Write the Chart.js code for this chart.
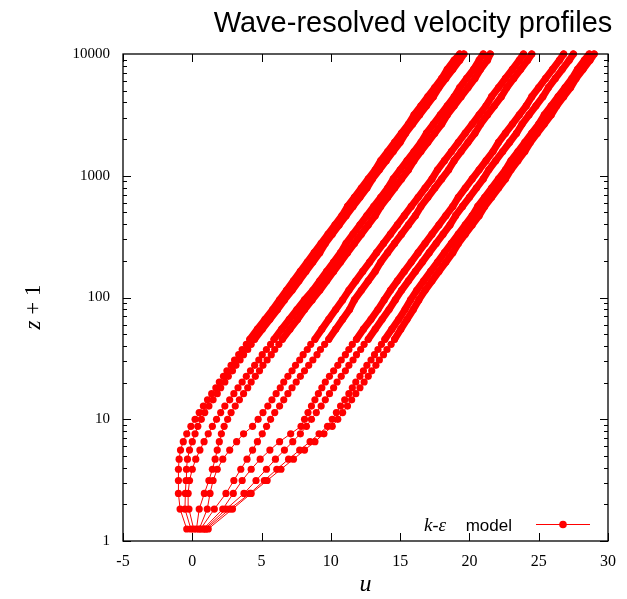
<!DOCTYPE html>
<html>
<head>
<meta charset="utf-8">
<script src="https://cdn.jsdelivr.net/npm/chart.js@4.4.0/dist/chart.umd.min.js"></script>
<style>
  html, body { margin: 0; padding: 0; background: #fff; }
  #wrap { width: 627px; height: 599px; }
</style>
</head>
<body>
<div id="wrap"><canvas id="profiles" width="627" height="599"></canvas></div>
<script>
// z + 1 levels of the model grid (dense near the bed, every 2nd level above ~45)
const zPlusOne = [1.255, 1.83, 2.457, 3.14, 3.885, 4.696, 5.581, 6.545, 7.597, 8.742,
  9.991, 11.35, 12.84, 14.45, 16.22, 18.14, 20.23, 22.52, 25.0, 27.72,
  30.67, 33.9, 37.41, 41.24, 45.41, 54.92, 66.21, 79.63, 95.58, 114.5,
  137.0, 163.8, 195.5, 233.3, 278.1, 331.4, 394.7, 469.9, 559.3, 665.5,
  791.6, 941.5, 1119.5, 1331, 1582, 1881, 2236, 2657, 3158, 3753,
  4460, 5300, 6298, 7484, 8892, 10000];

// velocity u at each level, one profile per wave phase
const u1 = [-0.4, -0.88, -1.0, -1.0, -1.0, -0.95, -0.85, -0.65, -0.4, -0.1, 0.2, 0.5, 0.8, 1.1, 1.4, 1.7, 1.95, 2.25, 2.5, 2.8, 3.05, 3.35, 3.6, 3.9, 4.15, 4.7, 5.25, 5.8, 6.3, 6.8, 7.3, 7.8, 8.3, 8.8, 9.3, 9.8, 10.3, 10.8, 11.2, 11.7, 12.2, 12.7, 13.2, 13.6, 14.1, 14.6, 15.1, 15.6, 16.0, 16.5, 17.0, 17.5, 18.0, 18.4, 18.9, 19.3];
const u2 = [-0.1, -0.53, -0.5, -0.45, -0.42, -0.35, -0.2, 0.0, 0.2, 0.4, 0.65, 0.9, 1.2, 1.5, 1.8, 2.05, 2.35, 2.6, 2.9, 3.15, 3.45, 3.7, 4.0, 4.25, 4.5, 5.05, 5.6, 6.15, 6.65, 7.2, 7.7, 8.2, 8.7, 9.2, 9.6, 10.1, 10.6, 11.1, 11.6, 12.1, 12.6, 13.0, 13.5, 14.0, 14.5, 15.0, 15.4, 15.9, 16.4, 16.9, 17.4, 17.8, 18.3, 18.8, 19.3, 19.6];
const u3 = [0.1, -0.24, -0.3, -0.2, 0.0, 0.25, 0.55, 0.85, 1.15, 1.45, 1.75, 2.05, 2.35, 2.7, 3.0, 3.3, 3.6, 3.9, 4.2, 4.5, 4.8, 5.05, 5.35, 5.65, 5.9, 6.45, 7.0, 7.55, 8.1, 8.7, 9.2, 9.7, 10.2, 10.7, 11.1, 11.6, 12.1, 12.6, 13.1, 13.6, 14.1, 14.5, 15.0, 15.5, 16.0, 16.5, 16.9, 17.4, 17.9, 18.4, 18.9, 19.3, 19.8, 20.3, 20.7, 21.0];
const u4 = [0.3, 0.5, 0.87, 1.2, 1.45, 1.65, 1.8, 1.95, 2.1, 2.3, 2.55, 2.8, 3.1, 3.4, 3.7, 4.0, 4.25, 4.55, 4.85, 5.1, 5.4, 5.7, 5.95, 6.25, 6.5, 7.05, 7.6, 8.1, 8.65, 9.2, 9.7, 10.2, 10.7, 11.2, 11.7, 12.2, 12.7, 13.2, 13.6, 14.1, 14.6, 15.1, 15.6, 16.0, 16.5, 17.0, 17.5, 18.0, 18.4, 18.9, 19.4, 19.9, 20.4, 20.8, 21.3, 21.5];
const u5 = [0.5, 1.08, 1.28, 1.5, 1.8, 2.2, 2.7, 3.2, 3.7, 4.35, 4.75, 5.1, 5.45, 5.75, 6.05, 6.35, 6.6, 6.9, 7.2, 7.45, 7.75, 8.0, 8.3, 8.55, 8.85, 9.35, 9.85, 10.35, 10.85, 11.3, 11.8, 12.3, 12.8, 13.3, 13.8, 14.3, 14.8, 15.3, 15.8, 16.3, 16.8, 17.3, 17.7, 18.2, 18.7, 19.2, 19.7, 20.2, 20.7, 21.2, 21.6, 22.1, 22.6, 23.1, 23.6, 23.9];
const u6 = [0.6, 1.59, 2.43, 3.0, 3.5, 3.95, 4.35, 4.7, 5.05, 5.36, 5.65, 5.95, 6.3, 6.6, 6.9, 7.2, 7.5, 7.8, 8.1, 8.4, 8.7, 9.0, 9.25, 9.55, 9.85, 10.35, 10.85, 11.35, 11.7, 12.2, 12.7, 13.2, 13.6, 14.1, 14.6, 15.1, 15.6, 16.1, 16.5, 17.0, 17.5, 18.0, 18.5, 18.9, 19.4, 19.9, 20.4, 20.8, 21.3, 21.8, 22.3, 22.7, 23.2, 23.7, 24.2, 24.5];
const u7 = [0.8, 2.2, 2.96, 3.6, 4.25, 4.9, 5.6, 6.3, 7.1, 7.85, 8.1, 8.35, 8.6, 8.85, 9.1, 9.35, 9.6, 9.9, 10.2, 10.5, 10.75, 11.05, 11.3, 11.55, 11.85, 12.35, 12.9, 13.4, 13.85, 14.3, 14.8, 15.3, 15.8, 16.3, 16.8, 17.3, 17.8, 18.3, 18.8, 19.2, 19.7, 20.2, 20.7, 21.2, 21.7, 22.1, 22.6, 23.1, 23.6, 24.1, 24.5, 25.0, 25.5, 26.0, 26.5, 26.8];
const u8 = [0.9, 2.45, 3.73, 4.6, 5.35, 6.0, 6.65, 7.25, 7.8, 8.24, 8.6, 8.95, 9.3, 9.6, 9.9, 10.2, 10.45, 10.75, 11.05, 11.3, 11.6, 11.85, 12.15, 12.4, 12.7, 13.2, 13.7, 14.2, 14.65, 15.1, 15.6, 16.1, 16.6, 17.1, 17.6, 18.1, 18.6, 19.0, 19.5, 20.0, 20.5, 21.0, 21.4, 21.9, 22.4, 22.9, 23.4, 23.8, 24.3, 24.8, 25.3, 25.7, 26.2, 26.7, 27.2, 27.5];
const u9 = [1.0, 2.7, 4.16, 5.2, 6.1, 6.95, 7.75, 8.5, 9.15, 9.76, 10.1, 10.4, 10.7, 11.0, 11.3, 11.55, 11.8, 12.1, 12.35, 12.6, 12.9, 13.15, 13.4, 13.65, 13.9, 14.4, 14.9, 15.35, 15.75, 16.2, 16.7, 17.2, 17.7, 18.2, 18.7, 19.2, 19.7, 20.2, 20.6, 21.1, 21.6, 22.1, 22.6, 23.0, 23.5, 24.0, 24.5, 25.0, 25.4, 25.9, 26.4, 26.9, 27.4, 27.8, 28.3, 28.65];
const u10 = [1.15, 2.9, 4.25, 5.4, 6.4, 7.3, 8.1, 8.85, 9.5, 10.1, 10.5, 10.85, 11.2, 11.5, 11.8, 12.1, 12.4, 12.7, 12.95, 13.25, 13.5, 13.8, 14.05, 14.35, 14.6, 15.05, 15.5, 15.95, 16.35, 16.8, 17.3, 17.8, 18.3, 18.8, 19.2, 19.7, 20.2, 20.7, 21.1, 21.6, 22.1, 22.6, 23.0, 23.5, 24.0, 24.4, 24.9, 25.4, 25.9, 26.3, 26.8, 27.3, 27.7, 28.2, 28.7, 29.0];

const profiles = [u1, u2, u3, u4, u5, u6, u7, u8, u9, u10];
const xTicks = [-5, 0, 5, 10, 15, 20, 25, 30];
const yTicks = [1, 10, 100, 1000, 10000];

const RED = '#ff0000';
const SERIF = '"Liberation Serif", "Times New Roman", serif';
const SANS = '"Liberation Sans", Arial, sans-serif';

function drawRuns(ctx, runs, x, y, align) {
  let total = 0;
  runs.forEach(r => { ctx.font = r.font; total += ctx.measureText(r.t).width; });
  let cx = align === 'right' ? x - total : align === 'center' ? x - total / 2 : x;
  ctx.textAlign = 'left';
  runs.forEach(r => {
    ctx.font = r.font;
    ctx.fillText(r.t, cx, y);
    cx += ctx.measureText(r.t).width;
  });
}

const decorations = {
  id: 'decorations',
  afterDatasetsDraw(chart) {
    const { ctx, chartArea: a, scales: { x, y } } = chart;
    ctx.save();
    ctx.strokeStyle = '#000';
    ctx.lineWidth = 1;
    const seg = (x0, y0, x1, y1) => { ctx.beginPath(); ctx.moveTo(x0, y0); ctx.lineTo(x1, y1); ctx.stroke(); };
    xTicks.forEach(v => {
      const px = Math.round(x.getPixelForValue(v)) + 0.5;
      seg(px, a.bottom, px, a.bottom - 8);
      seg(px, a.top, px, a.top + 8);
    });
    yTicks.slice(0, -1).forEach(d => {
      for (let m = 1; m <= 9; m++) {
        const py = Math.round(y.getPixelForValue(d * m)) + 0.5;
        const len = m === 1 ? 8 : 4;
        seg(a.left, py, a.left + len, py);
        seg(a.right, py, a.right - len, py);
      }
    });
    ctx.lineWidth = 1.3;
    ctx.strokeRect(a.left, a.top, a.right - a.left, a.bottom - a.top);

    // legend
    ctx.fillStyle = '#000';
    ctx.textBaseline = 'alphabetic';
    drawRuns(ctx, [
      { t: 'k', font: 'italic 19px ' + SERIF },
      { t: '-', font: '18px ' + SERIF },
      { t: '\u03b5', font: 'italic 19px ' + SERIF }
    ], 446, 531, 'right');
    drawRuns(ctx, [{ t: 'model', font: '17px ' + SANS }], 512, 531, 'right');
    ctx.strokeStyle = RED;
    ctx.lineWidth = 1;
    seg(536, 524.5, 590, 524.5);
    ctx.fillStyle = RED;
    ctx.beginPath(); ctx.arc(563, 524.5, 3.8, 0, Math.PI * 2); ctx.fill();

    // titles
    ctx.fillStyle = '#000';
    ctx.font = '29px ' + SANS;
    ctx.textAlign = 'center';
    ctx.fillText('Wave-resolved velocity profiles', 413, 32);
    drawRuns(ctx, [{ t: 'u', font: 'italic 24px ' + SERIF }], (a.left + a.right) / 2, 591, 'center');
    ctx.translate(40, 307);
    ctx.rotate(-Math.PI / 2);
    drawRuns(ctx, [
      { t: 'z', font: 'italic 23px ' + SERIF },
      { t: ' + 1', font: '23px ' + SERIF }
    ], 0, 0, 'center');
    ctx.restore();
  }
};

const markerSets = profiles.map((u, i) => ({
  label: 'profile ' + (i + 1),
  data: zPlusOne.map((z, k) => ({ x: u[k], y: z })),
  showLine: true,
  borderColor: RED,
  backgroundColor: RED,
  borderWidth: 1,
  pointRadius: 3.6,
  pointBorderWidth: 0,
  pointHoverRadius: 3.6,
  clip: 8
}));

// upper part of each profile, where gnuplot's dense markers merge into a solid band
const bandSets = profiles.map((u, i) => ({
  label: 'band ' + (i + 1),
  data: zPlusOne.map((z, k) => ({ x: u[k], y: z })).filter(p => p.y >= 45),
  showLine: true,
  borderColor: RED,
  backgroundColor: RED,
  borderWidth: 7,
  borderCapStyle: 'round',
  borderJoinStyle: 'round',
  pointRadius: 0,
  pointHoverRadius: 0,
  clip: 8
}));

new Chart(document.getElementById('profiles'), {
  type: 'scatter',
  data: { datasets: [...markerSets, ...bandSets] },
  options: {
    responsive: false,
    animation: false,
    devicePixelRatio: 1,
    layout: { padding: { top: 54, right: 19, left: 0, bottom: 0 } },
    plugins: { legend: { display: false }, tooltip: { enabled: false }, title: { display: false } },
    scales: {
      x: {
        type: 'linear',
        min: -5,
        max: 30,
        afterBuildTicks: s => { s.ticks = xTicks.map(v => ({ value: v })); },
        afterFit: s => { s.height = 58; },
        grid: { display: false },
        border: { display: false },
        ticks: { color: '#000', padding: 3, font: { family: SERIF, size: 16 } }
      },
      y: {
        type: 'logarithmic',
        min: 1,
        max: 10000,
        afterBuildTicks: s => { s.ticks = yTicks.map(v => ({ value: v })); },
        afterFit: s => { s.width = 123; },
        grid: { display: false },
        border: { display: false },
        ticks: { color: '#000', padding: 5, font: { family: SERIF, size: 15 }, callback: v => String(v) }
      }
    }
  },
  plugins: [decorations]
});
</script>
</body>
</html>
